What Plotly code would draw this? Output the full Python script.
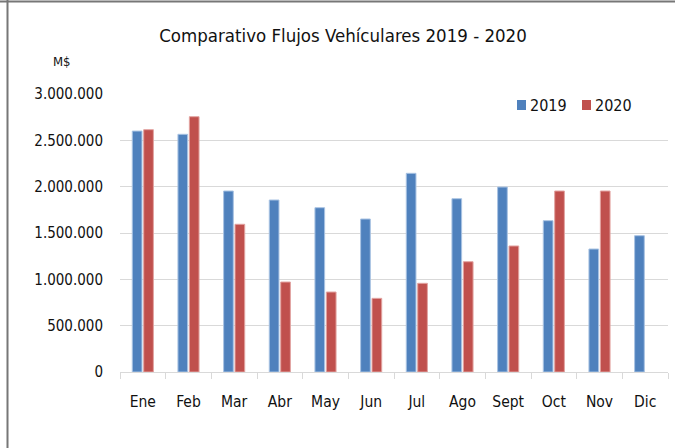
import plotly.graph_objects as go

# datos (M$)
meses = ['Ene', 'Feb', 'Mar', 'Abr', 'May', 'Jun', 'Jul', 'Ago', 'Sept', 'Oct', 'Nov', 'Dic']
flujo_2019 = [2600000, 2565000, 1953000, 1856000, 1773000, 1651000,
              2144000, 1870000, 1996000, 1633000, 1327000, 1471000]
flujo_2020 = [2615000, 2755000, 1594000, 971000, 863000, 795000,
              957000, 1190000, 1360000, 1953000, 1953000, None]
y_ticks = [0, 500000, 1000000, 1500000, 2000000, 2500000, 3000000]

FONT = 'DejaVu Sans Condensed, sans-serif'
GRID = '#d9d9d9'
AZUL, ROJO = '#4f81bd', '#c0504d'

W, H = 675, 448
L, R, T, B = 120, 7, 94, 76
PW, PH = W - L - R, H - T - B


def px_x(x):
    # pixel -> paper x
    return (x - L) / PW


def px_y(y):
    # pixel (desde arriba) -> paper y
    return (H - B - y) / PH


fig = go.Figure()
fig.add_trace(go.Bar(x=meses, y=flujo_2019, name='2019',
                     marker=dict(color=AZUL, line=dict(color='#a9c3e3', width=1))))
fig.add_trace(go.Bar(x=meses, y=flujo_2020, name='2020',
                     marker=dict(color=ROJO, line=dict(color='#e2a3a1', width=1))))

fig.update_layout(
    width=W, height=H,
    paper_bgcolor='white', plot_bgcolor='white',
    separators=',.',
    font=dict(family=FONT, color='#111111', size=14),
    margin=dict(l=L, r=R, t=T, b=B, autoexpand=False),
    barmode='group', bargap=0.5, bargroupgap=0.15,
    title=dict(text='Comparativo Flujos Vehículares 2019 - 2020',
               x=343 / W, xanchor='center', y=1 - 36 / H, yanchor='middle',
               font=dict(family=FONT, size=18.5, color='#111111')),
    showlegend=False,
)
fig.update_xaxes(showline=True, linecolor=GRID, linewidth=1,
                 ticks='outside', tickson='boundaries', ticklen=6, tickcolor=GRID,
                 tickfont=dict(size=15.5), ticklabelstandoff=15, showgrid=False)
fig.update_yaxes(range=[0, 3000000], tickvals=y_ticks, tickformat=',d',
                 showgrid=True, gridcolor=GRID, zeroline=False,
                 ticks='', ticklabelstandoff=16, tickfont=dict(size=15))

fig.add_annotation(text='M$', xref='paper', yref='paper', x=px_x(62), y=px_y(61),
                   xanchor='center', yanchor='middle', showarrow=False,
                   font=dict(size=13))

# leyenda
for nombre, color, x0 in [('2019', AZUL, 517), ('2020', ROJO, 582)]:
    fig.add_shape(type='rect', xref='paper', yref='paper',
                  x0=px_x(x0), x1=px_x(x0 + 9), y0=px_y(110), y1=px_y(100),
                  fillcolor=color, line=dict(width=0))
    fig.add_annotation(text=nombre, xref='paper', yref='paper',
                       x=px_x(x0 + 11), y=px_y(105), xanchor='left', yanchor='middle',
                       showarrow=False, font=dict(size=16))

# marco de la imagen
fig.add_shape(type='line', xref='paper', yref='paper', x0=px_x(0), x1=px_x(W),
              y0=px_y(1.5), y1=px_y(1.5), line=dict(color='#777777', width=2))
fig.add_shape(type='line', xref='paper', yref='paper', x0=px_x(7.5), x1=px_x(7.5),
              y0=px_y(H), y1=px_y(0), line=dict(color='#777777', width=2))

fig.write_html('out.html', config={'displayModeBar': False},
               post_script="document.body.style.margin='0';")
